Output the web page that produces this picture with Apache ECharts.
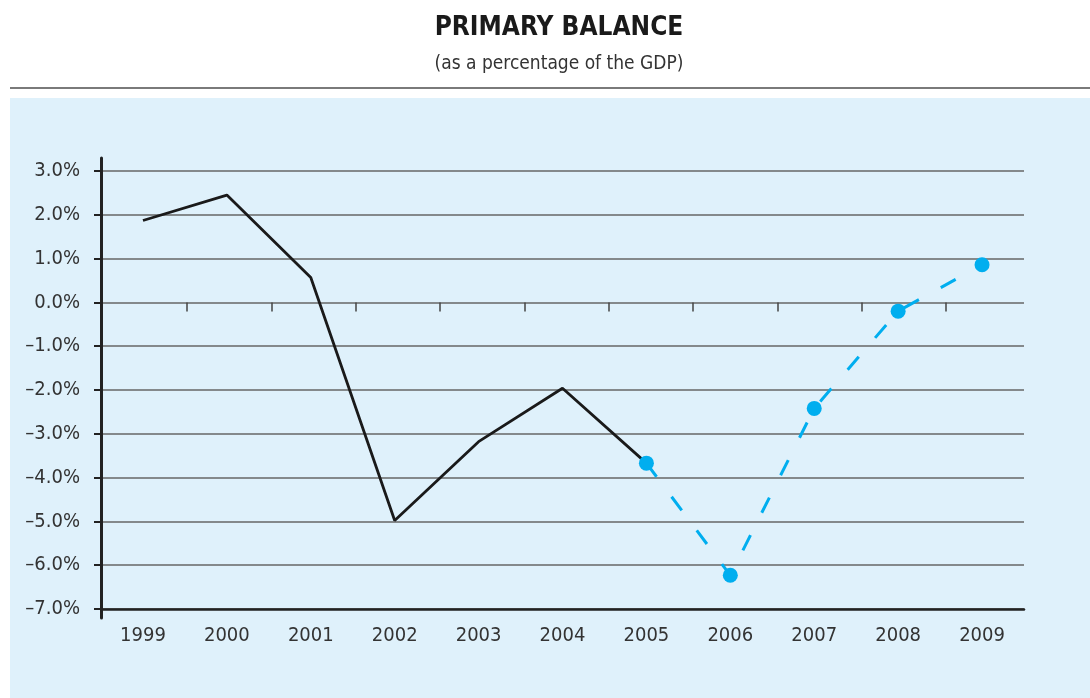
<!DOCTYPE html>
<html>
<head>
<meta charset="utf-8">
<script src="https://cdn.jsdelivr.net/npm/echarts@6/dist/echarts.min.js"></script>
<style>
  html, body { margin: 0; padding: 0; background: #ffffff; }
  #chart { width: 1090px; height: 698px; }
</style>
</head>
<body>
<div id="chart"></div>
<script>
// Primary balance, % of GDP
const years = ['1999', '2000', '2001', '2002', '2003', '2004', '2005', '2006', '2007', '2008', '2009'];
const actual = [1.87, 2.45, 0.57, -4.98, -3.18, -1.96, -3.67, null, null, null, null];
const projected = [null, null, null, null, null, null, -3.67, -6.23, -2.42, -0.2, 0.86];
const yMin = -7;
const yMax = 3;
const yStep = 1;

// year boundaries marked by the short ticks hanging from the zero line
const yearStarts = years.slice(1);

const FONT = "'Liberation Sans Narrow', 'DejaVu Sans Condensed', 'Roboto', sans-serif";
const pct = v => (v < 0 ? '\u2013' : '') + Math.abs(v).toFixed(1) + '%';

const chart = echarts.init(document.getElementById('chart'), null, { renderer: 'canvas' });

chart.setOption({
  backgroundColor: '#ffffff',
  animation: false,
  graphic: [
    { type: 'rect', left: 10, top: 98, z: -10, shape: { width: 1080, height: 600 }, style: { fill: '#dff1fb' } },
    { type: 'rect', left: 10, top: 87, z: -10, shape: { width: 1080, height: 2 }, style: { fill: '#7a7a7a' } }
  ],
  title: {
    text: 'PRIMARY BALANCE',
    subtext: '(as a percentage of the GDP)',
    left: 554,
    top: 10,
    textAlign: 'center',
    itemGap: 14,
    textStyle: { fontFamily: FONT, fontWeight: 'bold', fontSize: 26, color: '#1a1a1a' },
    subtextStyle: { fontFamily: FONT, fontSize: 19, color: '#333333' }
  },
  grid: [
    { left: 101, right: 66, top: 171, bottom: 89 },
    { left: 101, right: 66, top: 158, bottom: 80 },
    { left: 187, right: 144, top: 171, bottom: 89 }
  ],
  xAxis: [
    {
      gridIndex: 0,
      type: 'category',
      data: years,
      boundaryGap: true,
      axisLine: { onZero: false, lineStyle: { color: '#222222', width: 2.5 } },
      axisTick: { show: false },
      axisLabel: { fontFamily: FONT, fontSize: 20, color: '#333333', margin: 17 }
    },
    { gridIndex: 1, type: 'category', data: years, show: false },
    {
      gridIndex: 2,
      type: 'category',
      data: yearStarts,
      boundaryGap: false,
      position: 'bottom',
      axisLine: { show: false, onZero: true },
      axisTick: { show: true, length: 9, lineStyle: { color: '#444444', width: 1.5 } },
      axisLabel: { show: false },
      splitLine: { show: false }
    }
  ],
  yAxis: [
    {
      gridIndex: 0,
      type: 'value',
      min: yMin,
      max: yMax,
      interval: yStep,
      axisLine: { show: true, lineStyle: { color: '#222222', width: 3 } },
      axisTick: { show: true, length: 7, lineStyle: { color: '#222222', width: 2 } },
      axisLabel: { fontFamily: FONT, fontSize: 20, color: '#333333', margin: 21, formatter: pct },
      splitLine: { show: true, lineStyle: { color: '#666666', width: 1.5 } }
    },
    {
      gridIndex: 1,
      type: 'value',
      min: 0,
      max: 1,
      axisLine: { show: true, lineStyle: { color: '#222222', width: 3 } },
      axisTick: { show: false },
      axisLabel: { show: false },
      splitLine: { show: false }
    },
    {
      gridIndex: 2,
      type: 'value',
      min: yMin,
      max: yMax,
      interval: yStep,
      show: false
    }
  ],
  series: [
    {
      name: 'Actual',
      type: 'line',
      xAxisIndex: 0,
      yAxisIndex: 0,
      data: actual,
      symbol: 'none',
      z: 3,
      lineStyle: { color: '#1a1a1a', width: 2.8 }
    },
    {
      name: 'Projected',
      type: 'line',
      xAxisIndex: 0,
      yAxisIndex: 0,
      data: projected,
      symbol: 'circle',
      symbolSize: 15,
      z: 4,
      itemStyle: { color: '#00aeef' },
      lineStyle: { color: '#00aeef', width: 3, type: [17, 25] }
    }
  ]
});
</script>
</body>
</html>
